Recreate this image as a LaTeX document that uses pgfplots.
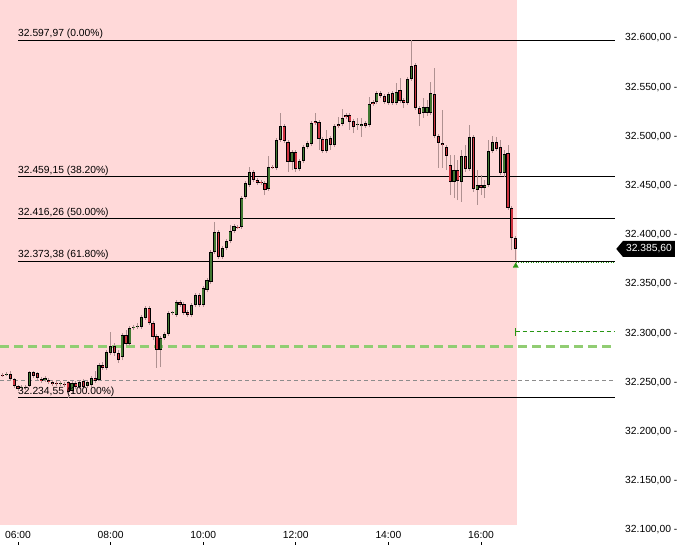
\documentclass[border=0pt]{standalone}
\usepackage{fontspec}
\setmainfont{Liberation Sans}
\usepackage{pgfplots}
\pgfplotsset{compat=1.18}
\usepackage{pgfplotstable}
\usetikzlibrary{shapes.symbols}

\definecolor{bg}{RGB}{255,217,217}
\definecolor{bullc}{RGB}{65,120,50}
\definecolor{bearc}{RGB}{205,50,62}
\definecolor{wick}{RGB}{175,145,145}
\definecolor{gline}{RGB}{140,140,140}
\definecolor{lgreen}{RGB}{145,205,115}
\definecolor{dgreen}{RGB}{40,150,20}
\newcommand{\lf}{\fontsize{10.3}{12}\selectfont}

% t = minutes after midnight, o h l c = open high low close
\pgfplotstableread{
t o h l c
345 32257.5 32260.5 32256.5 32258.5
365 32244.3 32247.3 32242.2 32245.3
375 32246.3 32261.6 32245.3 32260.5
395 32252.4 32256.5 32250.4 32254.4
415 32248.3 32251.4 32246.3 32249.4
430 32241.2 32251.4 32239.2 32249.4
440 32245.3 32252.4 32243.2 32250.4
450 32246.3 32252.4 32244.3 32250.4
455 32247.3 32256.5 32245.3 32254.4
465 32252.4 32269.7 32251.4 32267.7
475 32264.6 32282.9 32262.6 32280.9
480 32279.9 32301.2 32277.8 32287.0
495 32275.8 32300.2 32272.7 32298.1
505 32289.0 32307.3 32287.0 32305.3
510 32305.3 32308.3 32303.2 32306.3
515 32306.3 32310.3 32304.2 32307.3
520 32306.3 32318.5 32304.2 32316.4
525 32315.4 32327.6 32313.4 32325.6
545 32282.9 32297.1 32265.6 32295.1
550 32295.1 32301.2 32293.1 32299.2
555 32299.2 32322.5 32297.1 32320.5
560 32320.5 32322.5 32318.5 32321.0
565 32318.5 32333.7 32316.4 32331.7
585 32318.5 32330.7 32316.4 32328.6
590 32328.6 32340.8 32326.6 32338.8
600 32328.6 32347.9 32326.6 32345.9
605 32343.9 32356.1 32341.8 32354.0
610 32352.0 32384.5 32350.0 32382.5
615 32382.5 32413.0 32380.5 32402.8
625 32377.4 32388.6 32375.4 32386.6
630 32386.6 32395.7 32384.5 32393.7
635 32393.7 32409.9 32391.6 32403.8
640 32403.8 32411.0 32401.8 32408.9
650 32407.9 32439.4 32405.9 32437.4
655 32438.4 32454.7 32436.4 32452.6
660 32450.6 32468.9 32448.6 32463.8
685 32446.5 32480.1 32444.5 32468.9
695 32467.9 32498.4 32465.8 32496.3
700 32496.3 32523.8 32494.3 32510.5
715 32474.0 32486.2 32465.8 32484.1
725 32466.8 32477.0 32464.8 32475.0
730 32475.0 32491.2 32472.9 32489.2
735 32489.2 32495.3 32487.2 32493.3
740 32492.2 32515.6 32490.2 32513.6
760 32485.1 32506.5 32483.1 32497.3
770 32491.2 32512.6 32489.2 32510.5
780 32512.6 32527.8 32510.5 32518.7
800 32511.6 32518.7 32506.5 32512.6
805 32510.5 32518.7 32499.4 32512.6
815 32511.6 32540.0 32509.5 32532.9
825 32535.0 32546.1 32532.9 32544.1
840 32533.9 32545.1 32531.9 32543.1
850 32533.9 32554.2 32531.9 32545.1
865 32533.9 32560.3 32531.9 32558.3
870 32558.3 32597.97 32556.3 32571.5
885 32523.8 32539.0 32518.7 32529.9
890 32523.8 32537.0 32520.7 32529.9
895 32523.8 32555.3 32521.7 32544.1
925 32453.6 32481.1 32437.4 32465.8
935 32453.6 32486.2 32433.3 32480.1
945 32466.8 32511.6 32464.8 32499.4
955 32445.5 32465.8 32430.3 32450.6
965 32447.5 32455.7 32437.4 32450.6
970 32450.6 32496.3 32448.6 32485.1
975 32485.1 32500.4 32483.1 32494.3
990 32462.8 32486.2 32458.7 32482.1
}\bull

\pgfplotstableread{
t o h l c
340 32257.5 32259.5 32255.5 32257.0
350 32258.5 32261.6 32251.4 32253.4
355 32253.4 32254.4 32244.3 32246.3
360 32246.3 32247.3 32241.2 32243.2
370 32245.3 32247.3 32242.2 32244.3
380 32260.5 32261.6 32254.4 32256.5
385 32259.5 32260.5 32252.4 32254.4
390 32253.4 32255.5 32249.4 32251.4
400 32252.4 32254.4 32248.3 32250.4
405 32250.4 32252.4 32246.3 32248.3
410 32249.4 32251.4 32246.3 32248.3
420 32248.3 32250.4 32245.3 32247.3
425 32250.4 32251.4 32234.55 32240.2
435 32249.4 32251.4 32243.2 32245.3
445 32251.4 32253.4 32243.2 32245.3
460 32254.4 32261.6 32249.4 32251.4
470 32267.7 32270.7 32262.6 32264.6
485 32287.0 32290.0 32276.8 32279.9
490 32279.9 32282.9 32269.7 32272.7
500 32298.1 32303.2 32287.0 32289.0
530 32325.6 32327.6 32308.3 32310.3
535 32310.3 32312.4 32293.1 32296.1
540 32297.1 32299.2 32264.6 32282.9
570 32331.7 32333.7 32326.6 32328.6
575 32329.7 32331.7 32318.5 32320.5
580 32321.5 32323.5 32316.4 32318.5
595 32338.8 32340.8 32326.6 32328.6
620 32402.8 32404.9 32375.4 32377.4
645 32407.9 32409.9 32405.9 32407.4
665 32463.8 32465.8 32453.6 32455.7
670 32455.7 32457.7 32450.6 32452.6
675 32453.6 32455.7 32450.6 32452.6
680 32452.6 32454.7 32440.4 32445.5
690 32468.9 32470.9 32466.8 32468.4
705 32510.5 32512.6 32493.3 32495.3
710 32494.3 32496.3 32463.8 32474.0
720 32484.1 32486.2 32463.8 32466.8
745 32515.6 32523.8 32511.6 32513.6
750 32514.6 32516.6 32486.2 32497.3
755 32497.3 32499.4 32483.1 32485.1
765 32498.4 32500.4 32486.2 32491.2
775 32512.6 32519.7 32508.5 32510.5
785 32521.7 32523.8 32517.7 32519.7
790 32521.7 32523.8 32506.5 32514.6
795 32515.6 32517.7 32503.4 32509.5
810 32513.6 32515.6 32508.5 32510.5
820 32535.0 32537.0 32530.9 32532.9
830 32544.1 32546.1 32539.0 32541.0
835 32541.0 32543.1 32532.9 32535.0
845 32544.1 32546.1 32531.9 32533.9
855 32547.1 32559.3 32533.9 32536.0
860 32537.0 32539.0 32528.8 32533.9
875 32572.5 32574.6 32526.8 32528.8
880 32528.8 32530.9 32510.5 32522.7
900 32543.1 32569.5 32498.4 32500.4
905 32500.4 32502.4 32467.9 32493.3
910 32493.3 32526.8 32467.9 32491.2
915 32489.2 32491.2 32465.8 32480.1
920 32470.9 32481.1 32440.4 32453.6
930 32465.8 32476.0 32435.3 32454.7
940 32480.1 32491.2 32463.8 32466.8
950 32499.4 32501.4 32443.5 32446.5
960 32450.6 32460.7 32440.4 32447.5
980 32494.3 32499.4 32485.1 32487.2
985 32489.2 32496.3 32460.7 32462.8
995 32483.1 32491.2 32425.2 32427.2
1000 32427.2 32429.2 32384.5 32396.7
1005 32396.7 32398.8 32374.2 32385.6
}\bear

\pgfplotsset{
  candle/.style 2 args={draw=none, mark=none, forget plot,
    error bars/.cd, y dir=plus, y explicit, error mark=none,
    error bar style={solid, line cap=butt, draw=#1, line width=#2}},
}

\begin{document}
\begin{tikzpicture}
\begin{axis}[
  width=615pt, height=545pt, scale only axis,
  xmin=336.67, xmax=1133.65, ymin=32084.7, ymax=32638.6,
  axis line style={draw=none},
  clip=false,
  scaled x ticks=false, scaled y ticks=false,
  xtick={360,480,600,720,840,960},
  xticklabels={06:00,08:00,10:00,12:00,14:00,16:00},
  xtick pos=left,
  tick align=inside,
  major tick length=3pt,
  xtick style={black, line width=0.8pt},
  xticklabel style={font=\lf, anchor=base, yshift=6pt},
  ytick={32100,32150,...,32600},
  yticklabels={{32.100,00 -},{32.150,00 -},{32.200,00 -},{32.250,00 -},{32.300,00 -},{32.350,00 -},{32.400,00 -},{32.450,00 -},{32.500,00 -},{32.550,00 -},{32.600,00 -}},
  ytick pos=right, yticklabel pos=right,
  ytick style={draw=none},
  yticklabel style={font=\lf, anchor=west, inner sep=0pt, xshift=10pt},
]
% background session area
\addplot[fill=bg, draw=none, forget plot] coordinates {(336.67,32105) (1006.65,32105) (1006.65,32638.6) (336.67,32638.6)} -- cycle;

% reference lines
\addplot[gline, line width=0.8pt, dash pattern=on 4pt off 3pt, forget plot] coordinates {(336.67,32252.4) (1133.65,32252.4)};
\addplot[lgreen, line width=2.2pt, dash pattern=on 9pt off 5pt, forget plot] coordinates {(336.67,32286.5) (1133.65,32286.5)};
\addplot[dgreen, line width=0.8pt, dash pattern=on 4pt off 3pt, forget plot] coordinates {(1005,32301.5) (1133.65,32301.5)};
\addplot[dgreen, line width=0.8pt, forget plot] coordinates {(1005,32297.5) (1005,32305.5)};
\addplot[dgreen, line width=0.8pt, dash pattern=on 1pt off 1.5pt, forget plot] coordinates {(1005,32371.6) (1133.65,32371.6)};

% fibonacci levels
\addplot[black, line width=0.9pt, forget plot] coordinates {(360,32597.97) (1133.65,32597.97)};
\addplot[black, line width=0.9pt, forget plot] coordinates {(360,32459.15) (1133.65,32459.15)};
\addplot[black, line width=0.9pt, forget plot] coordinates {(360,32416.26) (1133.65,32416.26)};
\addplot[black, line width=0.9pt, forget plot] coordinates {(360,32373.38) (1133.65,32373.38)};
\addplot[black, line width=0.9pt, forget plot] coordinates {(360,32234.55) (1133.65,32234.55)};

% wicks
\addplot[candle={wick}{0.9pt}]
  table[x=t, y=l, y error plus expr=\thisrow{h}-\thisrow{l}] {\bull};
\addplot[candle={wick}{0.9pt}]
  table[x=t, y=l, y error plus expr=\thisrow{h}-\thisrow{l}] {\bear};

% bodies: black outline
\addplot[candle={black}{3.2pt}]
  table[x=t, y=o, y error plus expr=\thisrow{c}-\thisrow{o}] {\bull};
\addplot[candle={black}{3.2pt}]
  table[x=t, y=c, y error plus expr=\thisrow{o}-\thisrow{c}] {\bear};
% bodies: fill colour
\addplot[candle={bullc}{1.5pt}]
  table[x=t, y expr=\thisrow{o}+0.8, y error plus expr=\thisrow{c}-\thisrow{o}-1.6] {\bull};
\addplot[candle={bearc}{1.5pt}]
  table[x=t, y expr=\thisrow{c}+0.8, y error plus expr=\thisrow{o}-\thisrow{c}-1.6] {\bear};

% last-price marker
\addplot[only marks, mark=triangle*, mark size=3pt, dgreen, forget plot] coordinates {(1005,32368.3)};

% labels
\node[anchor=base west, inner sep=0pt, yshift=3.5pt, font=\lf] at (axis cs:360,32597.97) {32.597,97 (0.00\%)};
\node[anchor=base west, inner sep=0pt, yshift=3.5pt, font=\lf] at (axis cs:360,32459.15) {32.459,15 (38.20\%)};
\node[anchor=base west, inner sep=0pt, yshift=3.5pt, font=\lf] at (axis cs:360,32416.26) {32.416,26 (50.00\%)};
\node[anchor=base west, inner sep=0pt, yshift=3.5pt, font=\lf] at (axis cs:360,32373.38) {32.373,38 (61.80\%)};
\node[anchor=base west, inner sep=0pt, yshift=3.5pt, font=\lf] at (axis cs:360,32234.55) {32.234,55 (100.00\%)};

\node[signal, signal to=west, signal pointer angle=100, fill=black, text=white, font=\lf,
  inner xsep=3pt, inner ysep=3.8pt, anchor=west] at (axis cs:1133.65,32385.6) [xshift=1pt] {32.385,60};
\end{axis}
\pgfresetboundingbox
\useasboundingbox (current axis.south west) rectangle ++(679pt,545pt);
\end{tikzpicture}
\end{document}
